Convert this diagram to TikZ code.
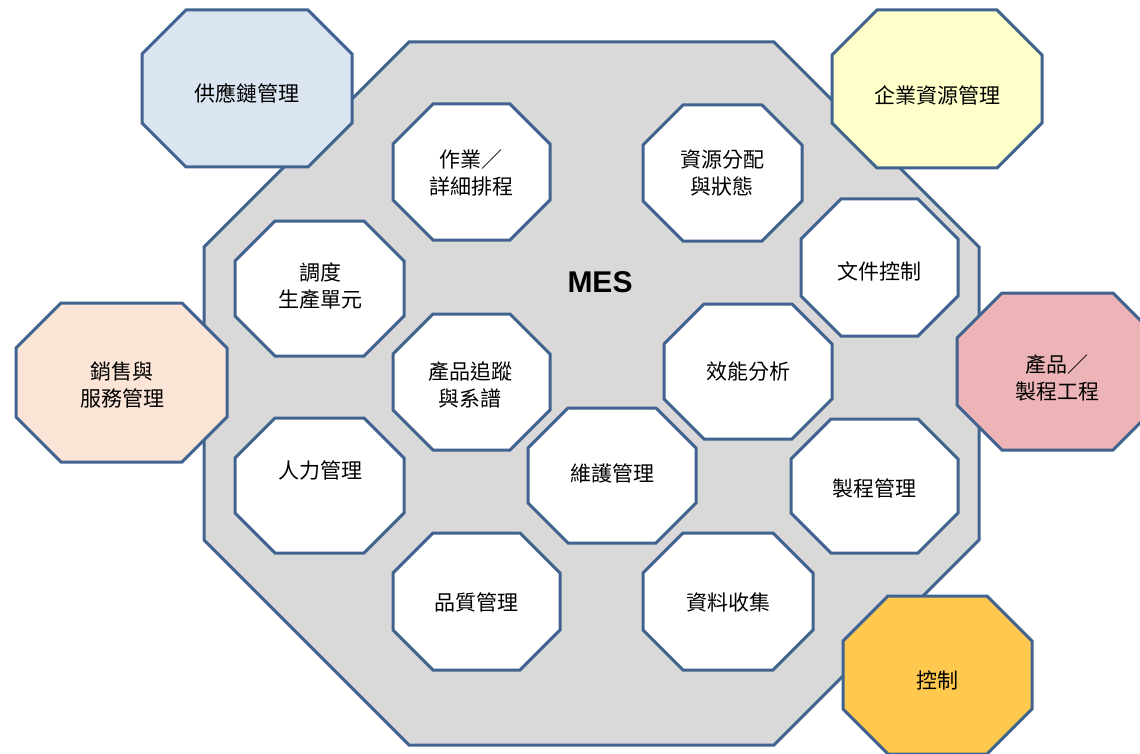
\documentclass[tikz,border=0pt]{standalone}
\usepackage{fontspec}
\newfontfamily\cjk{Noto Sans CJK TC}
\newfontfamily\mesfont{Liberation Sans}
\definecolor{edge}{HTML}{41638F}
\definecolor{mesgray}{HTML}{D9D9D9}
\definecolor{scmblue}{HTML}{DBE5F2}
\definecolor{erpyellow}{HTML}{FFFFC9}
\definecolor{salespeach}{HTML}{FCE5D7}
\definecolor{prodpink}{HTML}{ECB4B6}
\definecolor{ctrlorange}{HTML}{FFC94F}
\newcommand{\octo}[6][]{%
  \draw[octline,#1] ({#2+#6},#3) -- ({#4-#6},#3) -- (#4,{#3+#6}) -- (#4,{#5-#6})
    -- ({#4-#6},#5) -- ({#2+#6},#5) -- (#2,{#5-#6}) -- (#2,{#3+#6}) -- cycle;}
\tikzset{
  octline/.style={draw=edge, line width=3pt, line join=miter},
  lbl/.style={align=center, inner sep=0pt, font=\cjk\fontsize{21}{27}\selectfont, text=black},
}
\begin{document}
\begin{tikzpicture}[x=1pt,y=-1pt]
\useasboundingbox (0,0) rectangle (1140,754);
\clip (0,0) rectangle (1140,754);
\fill[white] (0,0) rectangle (1140,754);
% MES body
\octo[fill=mesgray]{204}{42}{979}{745}{205}
% inner modules
\octo[fill=white]{393}{104}{550}{240}{40}
\octo[fill=white]{643}{105}{802}{241}{40}
\octo[fill=white]{235}{221}{404}{356}{40}
\octo[fill=white]{801}{199}{958}{336}{40}
\octo[fill=white]{393}{314}{550}{450}{40}
\octo[fill=white]{664}{304}{832}{439}{40}
\octo[fill=white]{235}{418}{404}{553}{40}
\octo[fill=white]{528}{408}{696}{543}{40}
\octo[fill=white]{791}{419}{958}{553}{40}
\octo[fill=white]{393}{533}{560}{670}{40}
\octo[fill=white]{643}{533}{813}{670}{40}
% outer systems
\octo[fill=scmblue]{142}{10}{352}{167}{44}
\octo[fill=erpyellow]{832}{10}{1042}{168}{45}
\octo[fill=salespeach]{16}{303}{227}{462}{45}
\octo[fill=prodpink]{957}{293}{1158}{450}{45}
\octo[fill=ctrlorange]{843}{596}{1032}{754}{45}
% labels
\node[font=\mesfont\bfseries\fontsize{30}{30}\selectfont, inner sep=0pt] (mes) at (600,282) {MES};
\node[lbl] (ops) at (471,173) {作業／\\詳細排程};
\node[lbl] (res) at (722,173) {資源分配\\與狀態};
\node[lbl] (disp) at (320,286) {調度\\生產單元};
\node[lbl] (doc) at (879,271) {文件控制};
\node[lbl] (trace) at (470,385) {產品追蹤\\與系譜};
\node[lbl] (perf) at (748,372) {效能分析};
\node[lbl] (labor) at (320,470) {人力管理};
\node[lbl] (maint) at (612,473) {維護管理};
\node[lbl] (proc) at (874,488) {製程管理};
\node[lbl] (qual) at (476,602) {品質管理};
\node[lbl] (data) at (728,602) {資料收集};
\node[lbl] (scm) at (247,93) {供應鏈管理};
\node[lbl] (erp) at (937,95) {企業資源管理};
\node[lbl] (sales) at (122,385) {銷售與\\服務管理};
\node[lbl] (prod) at (1057,378) {產品／\\製程工程};
\node[lbl] (ctrl) at (937,680) {控制};
\end{tikzpicture}
\end{document}
